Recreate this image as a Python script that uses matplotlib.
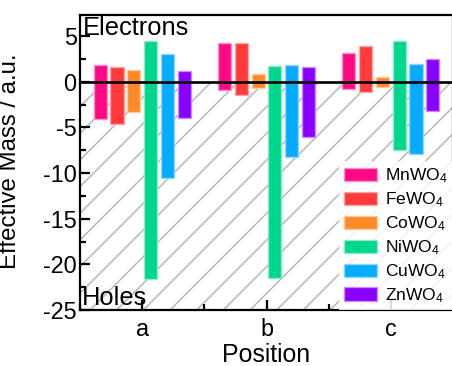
import numpy as np
import matplotlib
matplotlib.use("Agg")
import matplotlib.pyplot as plt
from matplotlib.colors import to_rgb
from matplotlib.ticker import MultipleLocator

plt.rcParams['font.family'] = ['Liberation Sans', 'DejaVu Sans']
plt.rcParams['mathtext.fontset'] = 'custom'
plt.rcParams['mathtext.rm'] = 'Liberation Sans'
plt.rcParams['mathtext.it'] = 'Liberation Sans'
plt.rcParams['hatch.linewidth'] = 0.7
plt.rcParams['axes.unicode_minus'] = False

positions = ['a', 'b', 'c']
materials = ['MnWO$_4$', 'FeWO$_4$', 'CoWO$_4$', 'NiWO$_4$', 'CuWO$_4$', 'ZnWO$_4$']
colors = ['#ff0a84', '#ff3a3a', '#ff8a26', '#00d68c', '#06aaff', '#8a00ff']

# effective masses per material, one entry per position (a, b, c)
electrons = [
    [1.8, 4.25, 3.1],    # Mn
    [1.6, 4.25, 3.9],    # Fe
    [1.25, 0.8, 0.5],    # Co
    [4.5, 1.75, 4.45],   # Ni
    [3.0, 1.8, 1.9],     # Cu
    [1.15, 1.6, 2.45],   # Zn
]
holes = [
    [-4.1, -0.9, -0.75],
    [-4.6, -1.45, -1.15],
    [-3.3, -0.65, -0.6],
    [-21.6, -21.5, -7.5],
    [-10.6, -8.25, -7.9],
    [-3.95, -6.1, -3.25],
]

fig = plt.figure(figsize=(452 / 160, 366 / 160), dpi=160)
ax = fig.add_axes([80 / 452, 1 - 310 / 366, 373 / 452, 295 / 366])

x = np.arange(len(positions))
step = 0.135
width = 0.105

# hatched region for holes
ax.axhspan(-25, 0, facecolor='none', edgecolor='#b8b8b8', hatch='//', linewidth=0, zorder=0)

for i, (m, c) in enumerate(zip(materials, colors)):
    edge = tuple(0.45 * np.array(to_rgb(c)) + 0.55)
    off = (i - 2.5) * step
    ax.bar(x + off, electrons[i], width, color=c, edgecolor=edge, linewidth=0.6, label=m, zorder=2)
    ax.bar(x + off, holes[i], width, color=c, edgecolor=edge, linewidth=0.6, zorder=2)

ax.axhline(0, color='black', linewidth=1.2, zorder=3)

ax.set_xlim(-0.5, 2.5)
ax.set_ylim(-25, 7.3)
ax.set_xticks(x)
ax.set_xticklabels(positions)
ax.xaxis.set_minor_locator(MultipleLocator(0.5))
ax.yaxis.set_major_locator(MultipleLocator(5))
ax.yaxis.set_minor_locator(MultipleLocator(2.5))
ax.tick_params(which='both', direction='in', width=1.0, labelsize=10.5, top=False, right=False)
ax.tick_params(which='major', length=4.7)
ax.tick_params(which='minor', length=2.7)
ax.tick_params(axis='x', pad=3.5)
ax.tick_params(axis='y', pad=1.5)
for s in ax.spines.values():
    s.set_linewidth(1.0)

ax.set_xlabel('Position', fontsize=11.2, labelpad=1)
ax.set_ylabel('Effective Mass / a.u.', fontsize=10.8)
ax.yaxis.set_label_coords(-0.158, 0.505)

ax.text(0.008, 0.995, 'Electrons', transform=ax.transAxes, fontsize=11.5, ha='left', va='top')
ax.text(0.005, 0.0, 'Holes', transform=ax.transAxes, fontsize=11.5, ha='left', va='bottom')

ax.legend(loc='lower right', fontsize=7.8, frameon=True, framealpha=0.85, edgecolor='none',
          fancybox=False, handlelength=1.9, handleheight=0.8, handletextpad=0.45,
          labelspacing=0.3, borderpad=0.3, borderaxespad=0.0)

fig.savefig('out.png', dpi=160)
